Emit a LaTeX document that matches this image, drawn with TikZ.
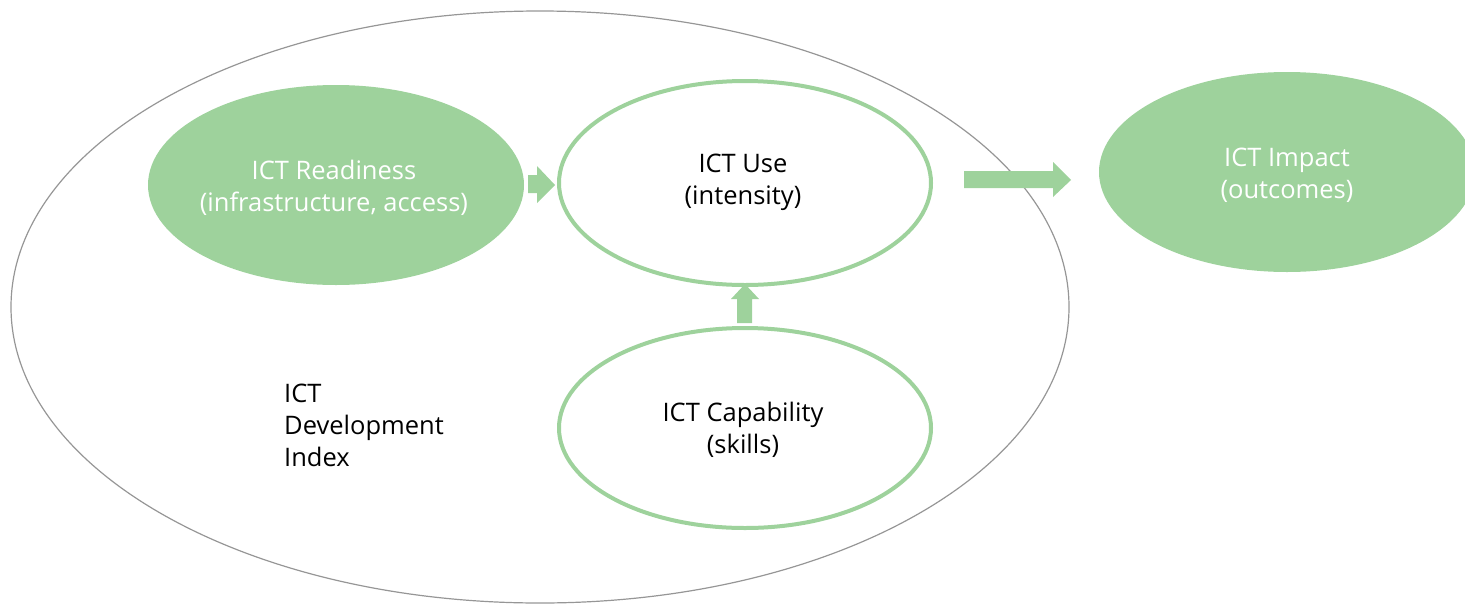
\documentclass[tikz,border=0pt]{standalone}
\usepackage{fontspec}
\setmainfont{Open Sans}
\begin{document}
\begin{tikzpicture}[x=1pt,y=-1pt,
  font=\fontsize{25.5}{32}\selectfont,
  every node/.style={align=center, inner sep=0pt},
  outlined/.style={draw=ictgreen, line width=4pt, fill=white},
  blockarrow/.style={fill=ictgreen, draw=none}]
\definecolor{ictgreen}{RGB}{158,210,156}
\definecolor{ictgrey}{RGB}{150,150,150}
\useasboundingbox (0,0) rectangle (1465,603);
% outer index ellipse
\draw[ictgrey, line width=1.2pt] (540,307) ellipse [x radius=529, y radius=296];
% component ellipses
\fill[ictgreen] (336,185) ellipse [x radius=188, y radius=100];
\draw[outlined] (745,183) ellipse [x radius=186, y radius=102];
\draw[outlined] (745,428) ellipse [x radius=186, y radius=100];
\fill[ictgreen] (1287,172) ellipse [x radius=188, y radius=100];
% labels
\node[text=white] (ready) at (334,188) {ICT Readiness\\(infrastructure, access)};
\node (use) at (743,182) {ICT Use\\(intensity)};
\node (cap) at (743,430) {ICT Capability\\(skills)};
\node[text=white] (impact) at (1287,175) {ICT Impact\\(outcomes)};
\node[align=left, anchor=north west] (idi) at (284,384) {ICT\\Development\\Index};
% arrows
\fill[blockarrow] (528,175) -- (537,175) -- (537,166) -- (555,185) -- (537,203) -- (537,193) -- (528,193) -- cycle;
\fill[blockarrow] (964,171) -- (1053,171) -- (1053,162) -- (1071,180) -- (1053,197) -- (1053,188) -- (964,188) -- cycle;
\fill[blockarrow] (737,323) -- (737,299) -- (731,299) -- (745,284) -- (759,299) -- (752,299) -- (752,323) -- cycle;
\end{tikzpicture}
\end{document}
